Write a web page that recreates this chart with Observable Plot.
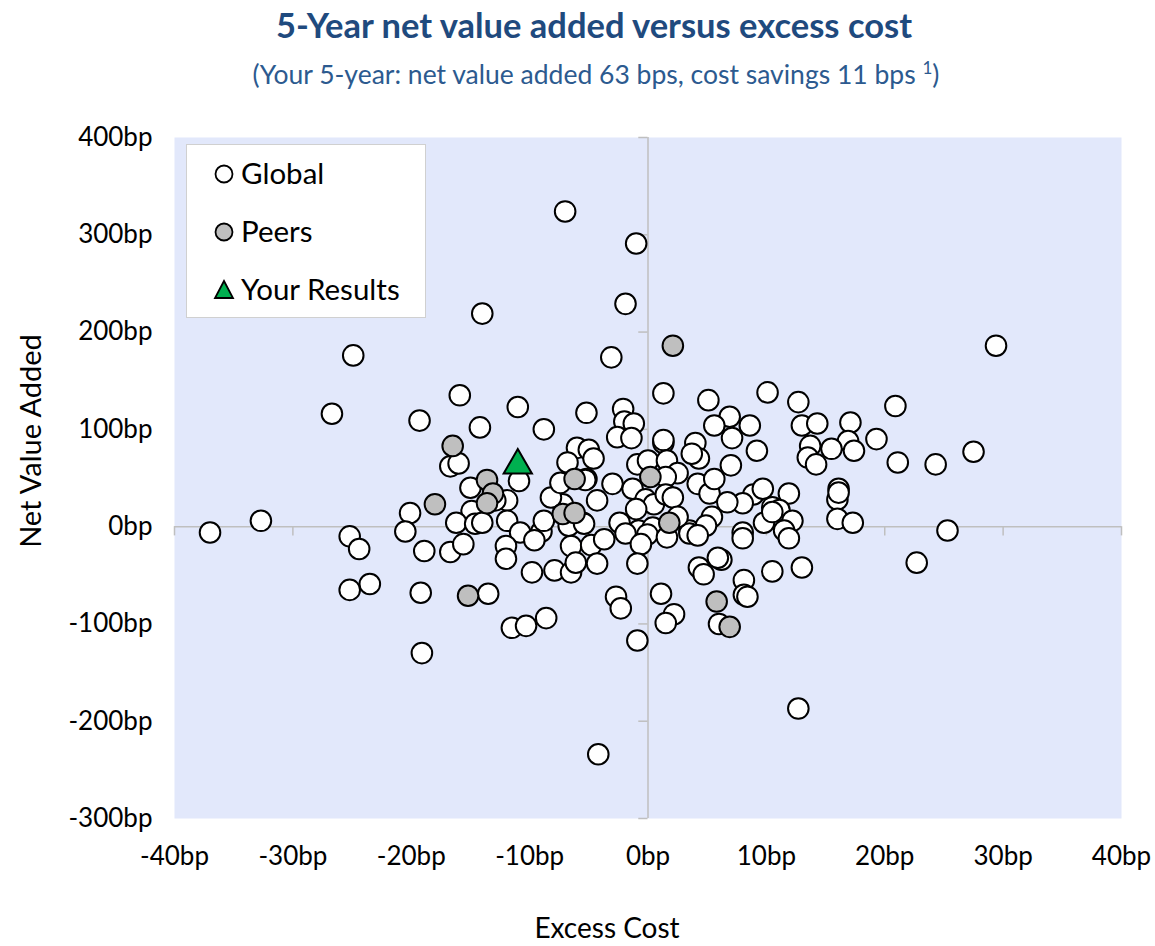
<!DOCTYPE html>
<html>
<head>
<meta charset="utf-8">
<script src="https://cdn.jsdelivr.net/npm/d3@7"></script>
<script src="https://cdn.jsdelivr.net/npm/@observablehq/plot@0.6"></script>
<style>
  body { margin: 0; background: #fff; font-family: Lato, "Open Sans", sans-serif; }
  #wrap { position: relative; width: 1155px; height: 946px; }
  #title { position: absolute; left: 0; width: 1188px; top: 4px; text-align: center; font-size: 34.5px; font-weight: bold; color: #1F4A7E; }
  #subtitle { position: absolute; left: 0; width: 1192px; top: 57px; text-align: center; font-size: 26.5px; color: #2C5A8F; }
  #legend { position: absolute; left: 186px; top: 144px; width: 240px; height: 174px; background: #fff; border: 1px solid #D0D0D0; box-sizing: border-box; }
  #chart { position: absolute; left: 0; top: 0; }
</style>
</head>
<body>
<div id="wrap">
  <div id="chart"></div>
  <div id="title">5-Year net value added versus excess cost</div>
  <div id="subtitle">(Your 5-year: net value added 63 bps, cost savings 11 bps <sup style="font-size:17px">1</sup>)</div>
  <div id="legend"></div>
</div>
<script>
// ---- data (bp) ----
const globalX = [-7.0,-1.0,-1.9,-14.0,-24.9,-3.1,29.4,-26.7,-15.9,-19.3,-14.2,-11.0,-8.8,-5.2,-2.1,-2.0,-1.2,-2.6,-1.4,1.3,5.1,10.1,12.7,6.9,5.6,8.6,7.1,9.2,7.0,13.0,14.3,17.1,19.3,16.9,17.4,15.5,13.7,13.5,14.2,20.9,21.1,24.3,27.5,1.3,1.3,4.0,4.3,3.7,-6.0,-5.0,-4.6,-6.8,-0.9,0.0,1.6,2.5,-5.2,1.5,4.2,5.2,-3.0,-1.3,-0.2,0.5,1.5,2.1,-4.3,-7.2,-5.5,-2.4,-1.0,3.5,-0.8,0.4,5.4,4.9,5.6,16.1,16.0,16.1,16.0,17.3,11.9,10.5,11.1,12.2,9.8,11.5,8.9,9.7,8.0,6.7,8.0,-16.7,-16.0,-10.9,-15.0,-11.9,-14.9,-20.1,-16.2,-14.6,-14.0,-11.9,-8.2,-10.8,-9.0,-20.5,-37.0,-32.7,-25.2,-24.4,-18.9,-16.7,-15.6,-25.2,-23.5,-19.2,-13.5,-19.1,-12.0,-12.0,-9.6,-6.5,-4.8,-3.7,-1.9,-0.05,-0.6,1.6,3.5,4.2,8.0,11.9,10.5,-9.8,-7.9,-6.5,-6.1,-4.3,-0.9,-11.5,-10.3,-8.6,-2.7,-2.3,-0.9,-4.2,12.7,1.1,2.2,1.5,6.0,8.1,8.1,8.4,10.5,13.0,4.3,4.7,6.2,5.9,22.7,25.3,-12.9,-8.8,-6.7,-5.4,-7.4,-5.3,2.5];
const globalY = [324,291,229,219,176,174,186,116,135,109,102,123,100,117,121,108,106,92,91,137,130,138,128,113,104,104,91,78,63,104,106,107,90,88,78,80,83,71,64,124,66,64,77,86,89,86,70,75,81,79,70,66,64,68,68,55,49,51,44,34,44,39,28,23,33,30,27,23,4,4,18,-4,-4,-1,10,1,49,39,28,35,8,4,34,20,17,6,4,-4,33,39,24,25,-6,62,65,47,40,27,16,14,4,3,4,6,30,-6,-5,-5,-6,6,-10,-23,-25,-26,-18,-65,-59,-68,-69,-130,-20,-33,-14,-20,-19,-13,-7,-8,-18,-11,-7,-9,-12,-12,15,-47,-45,-47,-37,-38,-38,-104,-102,-94,-72,-84,-117,-234,-187,-69,-90,-99,-100,-55,-70,-72,-46,-42,-42,-49,-34,-32,-37,-4,27,6,1,3,45,48,10];
const peersX = [2.1,-16.5,-13.6,-13.1,-13.6,-18.0,-6.2,0.2,-7.2,-6.2,1.8,-15.2,5.8,6.9];
const peersY = [186,83,48,34,24,23,49,51,13,14,4,-71,-77,-103];
const yourX = [-11];
const yourY = [63];
const xTicks = [-40,-30,-20,-10,0,10,20,30,40];
const yTicks = [-300,-200,-100,0,100,200,300,400];
const seriesNames = ["Global","Peers","Your Results"];

const toRows = (xs, ys) => xs.map((x, i) => ({x, y: ys[i]}));
const globalRows = toRows(globalX, globalY);
const peerRows = toRows(peersX, peersY);
const yourRows = toRows(yourX, yourY);
const fmt = d => d + "bp";

const chart = Plot.plot({
  width: 1155,
  height: 946,
  marginLeft: 174,
  marginRight: 34,
  marginTop: 137,
  marginBottom: 128,
  style: {fontFamily: "Lato, 'Open Sans', sans-serif", fontSize: "26px", color: "#000", background: "transparent"},
  x: {domain: [-40, 40], label: null},
  y: {domain: [-300, 400], label: null},
  marks: [
    Plot.frame({fill: "#E2E8FB", stroke: "none"}),
    Plot.ruleY([0], {stroke: "#BFBFBF", strokeWidth: 1.5}),
    Plot.ruleX([0], {stroke: "#BFBFBF", strokeWidth: 1.5}),
    Plot.ruleX(xTicks, {x: d => d, y1: 0, y2: -9.5, stroke: "#BFBFBF", strokeWidth: 1.5}),
    Plot.ruleY(yTicks, {y: d => d, x1: -0.78, x2: 0, stroke: "#BFBFBF", strokeWidth: 1.5}),
    Plot.axisX({ticks: xTicks, tickFormat: fmt, tickSize: 0, tickPadding: 28, label: null}),
    Plot.axisY({ticks: yTicks, tickFormat: fmt, tickSize: 0, tickPadding: 22, label: null}),
    Plot.dot(globalRows, {x: "x", y: "y", r: 10.3, fill: "white", stroke: "black", strokeWidth: 2}),
    Plot.dot(peerRows, {x: "x", y: "y", r: 10.3, fill: "#BFBFBF", stroke: "black", strokeWidth: 2}),
    Plot.dot(yourRows, {x: "x", y: "y", r: 10.5, symbol: "triangle", fill: "#00B050", stroke: "black", strokeWidth: 2}),
    Plot.text(["Net Value Added"], {frameAnchor: "left", textAnchor: "middle", dx: -143, dy: -37, rotate: -90, fontSize: 29, fill: "black"}),
    Plot.text(["Excess Cost"], {frameAnchor: "bottom", textAnchor: "middle", dx: -41, dy: 119, fontSize: 28, fill: "black"})
  ]
});
document.getElementById("chart").appendChild(chart);

// legend
const items = [
  {name: seriesNames[0], fill: "white", shape: "circle"},
  {name: seriesNames[1], fill: "#BFBFBF", shape: "circle"},
  {name: seriesNames[2], fill: "#00B050", shape: "triangle"}
];
const lg = d3.select("#legend").append("svg").attr("width", 240).attr("height", 174);
items.forEach((it, i) => {
  const cy = 29 + i * 58;
  const g = lg.append("g").attr("transform", `translate(37,${cy})`);
  if (it.shape === "circle") {
    g.append("circle").attr("r", 8.5).attr("fill", it.fill).attr("stroke", "black").attr("stroke-width", 1.8);
  } else {
    g.append("path").attr("d", "M0,-9L9,8L-9,8Z").attr("fill", it.fill).attr("stroke", "black").attr("stroke-width", 1.8);
  }
  lg.append("text").attr("x", 54).attr("y", cy).attr("dy", "0.35em")
    .attr("font-family", "Lato, 'Open Sans', sans-serif").attr("font-size", 29.5).text(it.name);
});
</script>
</body>
</html>
